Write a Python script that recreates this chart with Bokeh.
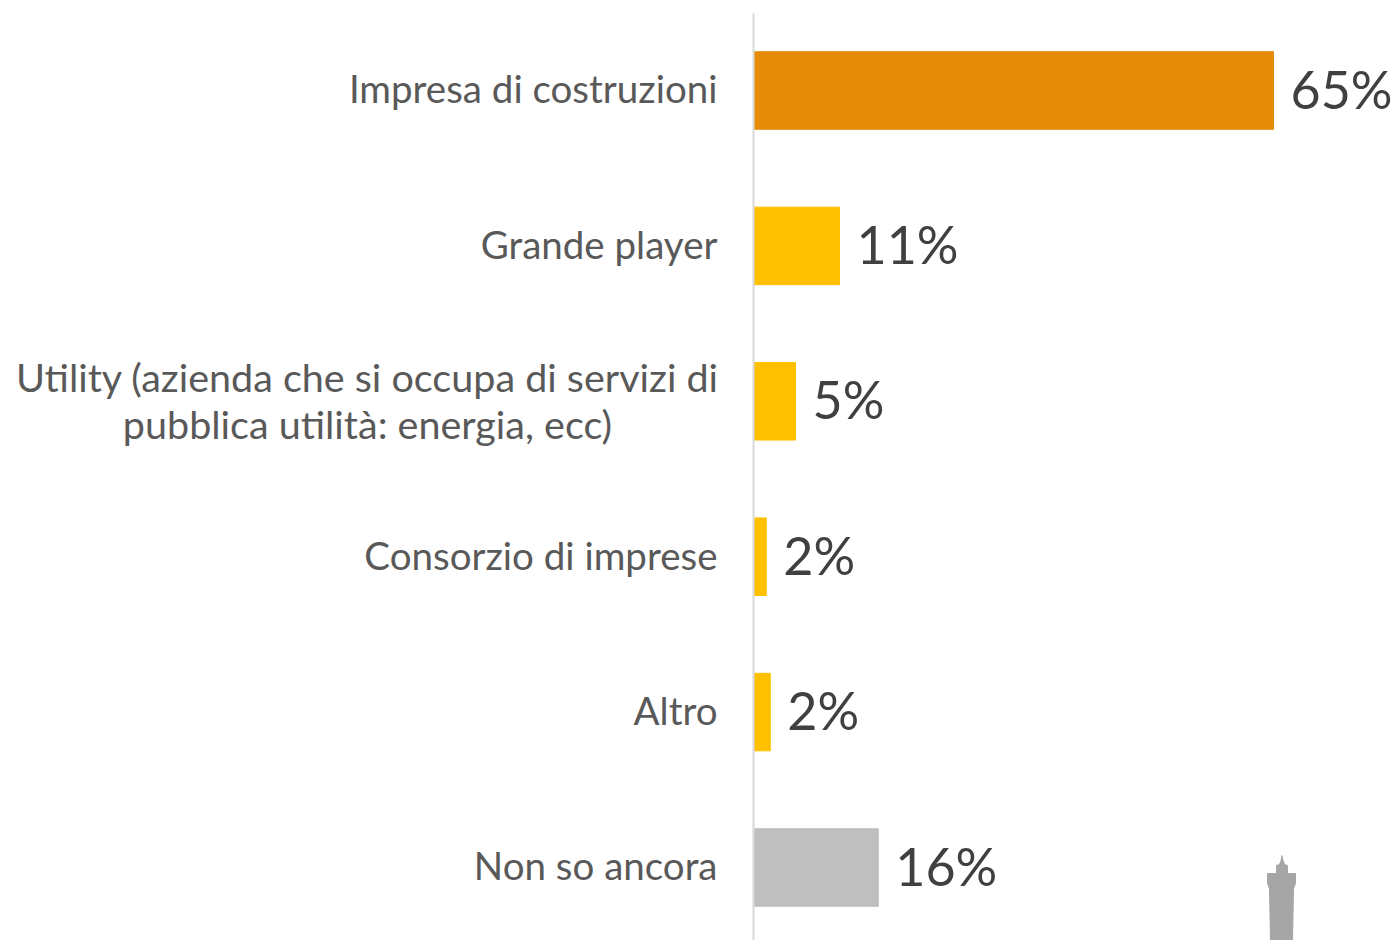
from bokeh.plotting import figure
from bokeh.models import Range1d, FixedTicker, ColumnDataSource
from bokeh.core.properties import value
from bokeh.embed import file_html
from bokeh.resources import INLINE

categories = ["Non so ancora", "Altro", "Consorzio di imprese",
              "", "Grande player", "Impresa di costruzioni"]
long_category = "Utility (azienda che si occupa di servizi di\npubblica utilità: energia, ecc)"
values = [15.6, 2.1, 1.6, 5.25, 10.75, 65]
labels = ["16%", "2%", "2%", "5%", "11%", "65%"]
colors = ["#BFBFBF", "#FFC000", "#FFC000", "#FFC000", "#FFC000", "#E48B08"]
positions = [0, 1, 2, 3, 4, 5]

tower_x = [64.625, 64.5, 64.25, 64.25, 65.375, 65.375, 65.75, 65.95, 66.04, 66.2,
           66.375, 66.75, 66.75, 67.75, 67.75, 67.5, 67.375]
tower_y = [-0.47, -0.135, -0.103, -0.039, -0.039, 0.013, 0.02, 0.045, 0.077, 0.045,
           0.02, 0.013, -0.039, -0.039, -0.103, -0.135, -0.47]

W, H = 1399, 940
ZERO_X = 753
PX_PER_UNIT = 8.0
ROW = 155.4
BOTTOM = (940 - 867) / ROW
LABEL_NUDGE = 0.013  # lifts the axis labels about 2px to sit level with the bars

p = figure(width=W, height=H, output_backend="svg", toolbar_location=None,
           x_range=Range1d(-ZERO_X / PX_PER_UNIT, (W - ZERO_X) / PX_PER_UNIT),
           y_range=Range1d(-BOTTOM, H / ROW - BOTTOM),
           min_border_left=0, min_border_right=0,
           min_border_top=0, min_border_bottom=0, outline_line_color=None)
p.xgrid.visible = False
p.ygrid.visible = False
p.xaxis.visible = False

ax = p.yaxis[0]
ax.fixed_location = 0
ticks = [round(pos + LABEL_NUDGE, 3) for pos in positions]
ax.ticker = FixedTicker(ticks=ticks)
ax.major_label_overrides = {t: cat for t, cat in zip(ticks, categories)}
ax.major_tick_line_color = None
ax.minor_tick_line_color = None
ax.axis_line_color = "#D9D9D9"
ax.axis_line_width = 2
ax.bounds = (-BOTTOM, (867 - 13) / ROW)
ax.major_label_text_font = "Lato"
ax.major_label_text_font_size = "38.5px"
ax.major_label_text_color = "#595959"
ax.major_label_standoff = 30

p.text(x=[0], y=[3], text=[long_category], x_offset=-386, y_offset=-1,
       text_align="center", text_baseline="middle",
       text_font=value("Lato"), text_font_size="39.5px", text_color="#595959",
       text_line_height=1.0)

src = ColumnDataSource(dict(y=positions, v=values, c=colors, t=labels))
p.hbar(y="y", left=0, right="v", height=77.5 / ROW, color="c", source=src)
p.text(x="v", y="y", text="t", source=src, x_offset=17, y_offset=-2, text_baseline="middle",
       text_font=value("Lato"), text_font_size="52px", text_color="#404040")
p.patch(tower_x, tower_y, color="#A6A6A6")

open("out.html", "w").write(file_html(p, INLINE))
